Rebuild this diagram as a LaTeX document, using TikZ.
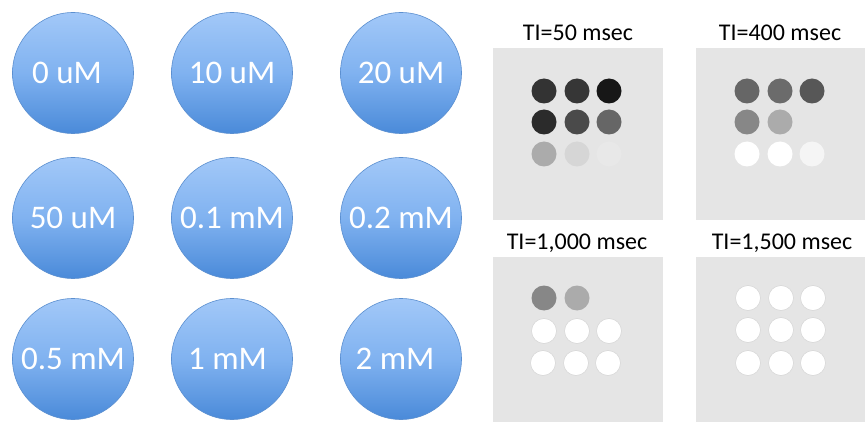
\documentclass[tikz,border=0pt]{standalone}
\usepackage{fontspec}
\setmainfont{Carlito}
\begin{document}
\begin{tikzpicture}[x=1pt,y=-1pt,
  conc/.style={circle, minimum size=121pt, inner sep=0pt,
    top color=circtop, bottom color=circbot, middle color=circmid,
    draw=circedge, line width=0.6pt,
    text=white, font=\fontsize{33}{33}\selectfont},
  panel/.style={fill=panelbg, draw=none},
  ttl/.style={font=\fontsize{24}{24}\selectfont, text=black, inner sep=0pt},
  spot/.style={circle, minimum size=25pt, inner sep=0pt, draw=none},
  bright/.style={spot, fill=white, draw=ringgray, line width=0.5pt}]
\definecolor{circtop}{HTML}{A2C8F8}
\definecolor{circmid}{HTML}{80B2F0}
\definecolor{circbot}{HTML}{4A8AD9}
\definecolor{circedge}{HTML}{5B8FD0}
\definecolor{panelbg}{HTML}{E5E5E5}
\definecolor{ringgray}{HTML}{D4D4D4}
\useasboundingbox (0,0) rectangle (865,422);
\fill[white] (0,0) rectangle (865,422);

% concentration phantoms
\node[conc] (c1) at (73,73)  {\hspace*{-12pt}0 uM};
\node[conc] (c2) at (232,73) {10 uM};
\node[conc] (c3) at (401,73) {20 uM};
\node[conc] (c4) at (73,218) {50 uM};
\node[conc] (c5) at (232,218) {0.1 mM};
\node[conc] (c6) at (401,218) {0.2 mM};
\node[conc] (c7) at (73,359) {0.5 mM};
\node[conc] (c8) at (232,359) {\hspace*{-9pt}1 mM};
\node[conc] (c9) at (401,359) {\hspace*{-12pt}2 mM};

% inversion time images
\fill[panel] (493,48) rectangle (663,220);
\fill[panel] (696,48) rectangle (865,220);
\fill[panel] (493,257) rectangle (663,422);
\fill[panel] (696,257) rectangle (865,422);

\node[ttl] (t1) at (578,33) {TI=50 msec};
\node[ttl] (t2) at (780,33) {TI=400 msec};
\node[ttl] (t3) at (577,243) {TI=1,000 msec};
\node[ttl] (t4) at (782,243) {TI=1,500 msec};

% TI = 50 msec
\node[spot, fill=black!80] (a1) at (544,91) {};
\node[spot, fill=black!79] (a2) at (577,91) {};
\node[spot, fill=black!91] (a3) at (609,91) {};
\node[spot, fill=black!83] (a4) at (544,122) {};
\node[spot, fill=black!71] (a5) at (577,122) {};
\node[spot, fill=black!60] (a6) at (609,122) {};
\node[spot, fill=black!33] (a7) at (544,154) {};
\node[spot, fill=black!16] (a8) at (577,154) {};
\node[spot, fill=black!9]  (a9) at (609,154) {};

% TI = 400 msec
\node[spot, fill=black!60] (b1) at (747,91) {};
\node[spot, fill=black!58] (b2) at (780,91) {};
\node[spot, fill=black!66] (b3) at (812,91) {};
\node[spot, fill=black!47] (b4) at (747,122) {};
\node[spot, fill=black!33] (b5) at (780,122) {};
\node[spot, fill=white, draw=none] (b7) at (747,154) {};
\node[spot, fill=white, draw=none] (b8) at (780,154) {};
\node[spot, fill=black!4] (b9) at (812,154) {};

% TI = 1,000 msec
\node[spot, fill=black!47] (d1) at (544,298) {};
\node[spot, fill=black!33] (d2) at (577,298) {};
\node[bright] (d4) at (544,331) {};
\node[bright] (d5) at (577,331) {};
\node[bright] (d6) at (609,331) {};
\node[bright] (d7) at (543,363) {};
\node[bright] (d8) at (576,363) {};
\node[bright] (d9) at (608,363) {};

% TI = 1,500 msec
\node[bright] (e1) at (748,298) {};
\node[bright] (e2) at (781,298) {};
\node[bright] (e3) at (813,298) {};
\node[bright] (e4) at (748,330) {};
\node[bright] (e5) at (781,330) {};
\node[bright] (e6) at (813,330) {};
\node[bright] (e7) at (748,363) {};
\node[bright] (e8) at (781,363) {};
\node[bright] (e9) at (813,363) {};
\end{tikzpicture}
\end{document}
